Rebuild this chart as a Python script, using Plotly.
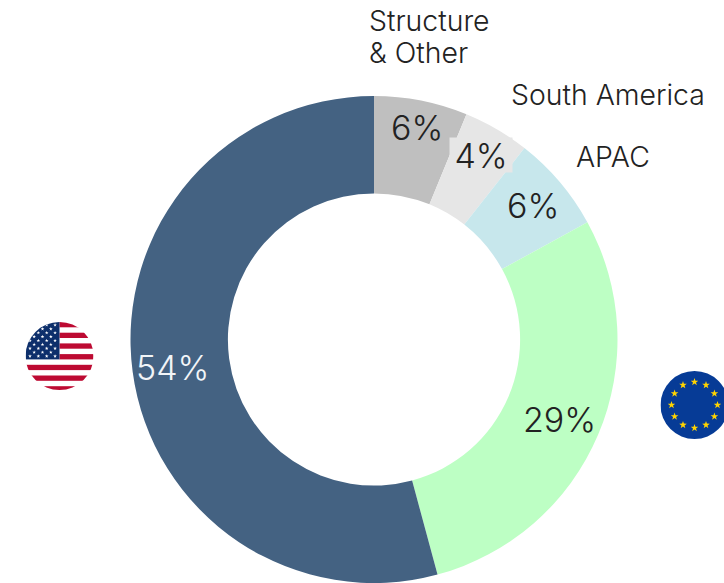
import base64
import math
import plotly.graph_objects as go

W, H = 724, 583
regions = ["Structure & Other", "South America", "APAC", "Europe", "United States"]
shares = [6.2, 4.4, 6.4, 28.8, 54.2]
colors = ["#BFBFBF", "#E6E6E6", "#C7E7EC", "#BDFFC4", "#446282"]
pct_colors = ["#222222", "#222222", "#222222", "#222222", "#F2F5F8"]
pct_pos = [(417, 127), (481, 155), (533, 205), (559, 419), (172, 367)]
pct_bg = [None, "#E6E6E6", None, None, None]
FONT = "Inter"
WEIGHT = 300
TEXT_SIZE = 28.4
PCT_SIZE = 34


def star(cx, cy, r, fill):
    pts = []
    for i in range(10):
        rr = r if i % 2 == 0 else r * 0.4
        a = -math.pi / 2 + i * math.pi / 5
        pts.append(f"{cx + rr * math.cos(a):.2f},{cy + rr * math.sin(a):.2f}")
    return f'<polygon points="{" ".join(pts)}" fill="{fill}"/>'


def us_flag():
    s = '<svg xmlns="http://www.w3.org/2000/svg" width="680" height="680" viewBox="0 0 68 68">'
    s += '<defs><clipPath id="c"><circle cx="34" cy="34" r="34"/></clipPath></defs><g clip-path="url(#c)">'
    s += '<rect width="68" height="68" fill="#FFFFFF"/>'
    for i in range(7):
        s += f'<rect x="{34 if i < 4 else 0}" y="{i * 10.7}" width="68" height="5.3" fill="#BD0A32"/>'
    s += '<rect width="34" height="37.4" fill="#0D2F6B"/>'
    for row in range(9):
        for col in range(5):
            x = 4.5 + col * 8.35 + (4.15 if row % 2 else 0)
            y = 3 + row * 3.9
            if x < 33:
                s += star(x, y, 1.9, "#FFFFFF")
    return s + "</g></svg>"


def eu_flag():
    s = '<svg xmlns="http://www.w3.org/2000/svg" width="680" height="680" viewBox="0 0 68 68">'
    s += '<circle cx="34" cy="34" r="34" fill="#063B96"/>'
    for i in range(12):
        a = i * math.pi / 6
        s += star(34 + 23 * math.sin(a), 34 - 23 * math.cos(a), 4.0, "#FFD400")
    return s + "</svg>"


def uri(svg):
    return "data:image/svg+xml;base64," + base64.b64encode(svg.encode()).decode()


fig = go.Figure(go.Pie(
    labels=regions, values=shares, sort=False, direction="clockwise", rotation=0,
    hole=0.6, textinfo="none", hoverinfo="label+percent",
    marker=dict(colors=colors, line=dict(width=0)),
    domain=dict(x=[130.5 / W, 617.5 / W], y=[0, 487 / H]),
    showlegend=False,
))


def ann(text, px, py, size, color, anchor="center", **kw):
    return dict(text=text, x=px / W, y=1 - py / H, xref="paper", yref="paper",
                xanchor=anchor, yanchor="middle", showarrow=False,
                font=dict(family=FONT, size=size, color=color, weight=WEIGHT), **kw)


anns = [
    ann("Structure", 366.5, 21, TEXT_SIZE, "#222222", "left"),
    ann("& Other", 366.5, 52, TEXT_SIZE, "#222222", "left"),
    ann("South America", 508.5, 94, TEXT_SIZE, "#222222", "left"),
    ann("APAC", 573.5, 156, TEXT_SIZE, "#222222", "left"),
]
for v, c, p, bg in zip(shares, pct_colors, pct_pos, pct_bg):
    extra = dict(bgcolor=bg, width=60, height=32) if bg else {}
    anns.append(ann(f"{round(v)}%", p[0], p[1], PCT_SIZE, c, **extra))

images = [
    dict(source=uri(us_flag()), xref="paper", yref="paper", x=25.5 / W, y=1 - 322 / H,
         sizex=68 / W, sizey=68 / H, xanchor="left", yanchor="top", layer="above", sizing="stretch"),
    dict(source=uri(eu_flag()), xref="paper", yref="paper", x=660.5 / W, y=1 - 371 / H,
         sizex=68 / W, sizey=68 / H, xanchor="left", yanchor="top", layer="above", sizing="stretch"),
]

fig.update_layout(width=W, height=H, margin=dict(l=0, r=0, t=0, b=0), autosize=False,
                  paper_bgcolor="#FFFFFF", annotations=anns, images=images)
fig.write_html("out.html", config=dict(displayModeBar=False),
               post_script="document.body.style.margin='0';document.documentElement.style.overflow='hidden';")
